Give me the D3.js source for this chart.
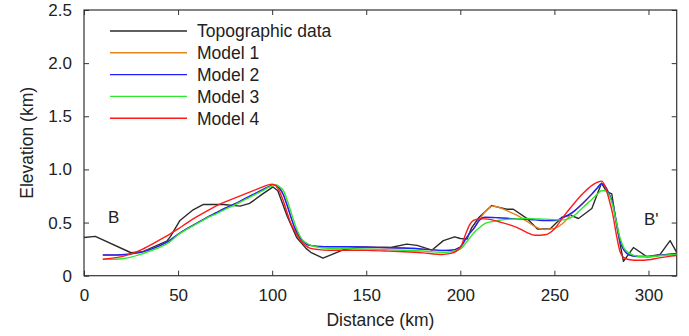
<!DOCTYPE html>
<html><head><meta charset="utf-8">
<script src="https://cdn.jsdelivr.net/npm/d3@7"></script>
<style>body{margin:0;background:#fff}svg{display:block;font-family:"Liberation Sans",Arial,sans-serif}</style>
</head><body><svg id="c" width="689" height="336"></svg>
<script>
const xTicks = [0, 50, 100, 150, 200, 250, 300];
const yTicks = [0, 0.5, 1.0, 1.5, 2.0, 2.5];
const yTickLabels = ["0", "0.5", "1.0", "1.5", "2.0", "2.5"];
const seriesNames = ["Topographic data", "Model 1", "Model 2", "Model 3", "Model 4"];
const seriesColors = ["#2b2b2b", "#e8821e", "#1f1fff", "#2ee82e", "#ff1a1a"];

const topoX = [0, 6, 25, 31, 44, 46, 51, 58, 63.5, 74, 83, 88, 95, 100.5, 103, 108, 113, 118, 120.5, 127, 138, 146, 163, 171.5, 177, 185, 191, 197, 200, 203.5, 206, 210, 216.7, 224.7, 228.2, 235.3, 241, 247.7, 254, 258.4, 262.8, 269.9, 275, 277.8, 280.5, 283.2, 286.7, 292, 299.2, 306.2, 311.5, 315];
const topoY = [0.36, 0.37, 0.216, 0.225, 0.325, 0.37, 0.52, 0.62, 0.67, 0.67, 0.655, 0.68, 0.77, 0.835, 0.80, 0.56, 0.36, 0.257, 0.22, 0.165, 0.245, 0.265, 0.265, 0.297, 0.285, 0.241, 0.33, 0.366, 0.35, 0.344, 0.45, 0.55, 0.66, 0.625, 0.625, 0.54, 0.44, 0.44, 0.55, 0.57, 0.538, 0.632, 0.87, 0.79, 0.77, 0.46, 0.135, 0.265, 0.178, 0.2, 0.33, 0.22];

const modelX = [10, 15, 20, 25, 30, 35, 40, 45, 50, 55, 60, 65, 70, 75, 80, 85, 90, 95, 98, 100, 102, 104, 106, 108, 110, 112, 114, 116, 118, 120, 125, 130, 140, 150, 160, 170, 180, 190, 195, 200, 203, 205, 207, 210, 213, 217, 220, 225, 230, 235, 240, 245, 250, 255, 260, 265, 270, 273, 275, 277, 279, 281, 283, 285, 287, 290, 295, 300, 305, 310, 315];

const model1Y = [0.195, 0.195, 0.197, 0.205, 0.22, 0.245, 0.28, 0.325, 0.39, 0.445, 0.495, 0.545, 0.59, 0.635, 0.675, 0.72, 0.765, 0.81, 0.835, 0.85, 0.85, 0.82, 0.76, 0.66, 0.55, 0.45, 0.38, 0.33, 0.30, 0.285, 0.275, 0.272, 0.272, 0.27, 0.265, 0.26, 0.25, 0.238, 0.24, 0.27, 0.35, 0.40, 0.44, 0.52, 0.60, 0.655, 0.645, 0.61, 0.57, 0.515, 0.46, 0.435, 0.445, 0.50, 0.60, 0.68, 0.77, 0.83, 0.865, 0.84, 0.77, 0.68, 0.50, 0.32, 0.24, 0.195, 0.18, 0.18, 0.19, 0.20, 0.21];
const model2Y = [0.195, 0.195, 0.197, 0.205, 0.22, 0.245, 0.28, 0.325, 0.39, 0.445, 0.495, 0.545, 0.59, 0.635, 0.675, 0.72, 0.765, 0.81, 0.835, 0.85, 0.85, 0.82, 0.76, 0.66, 0.55, 0.45, 0.38, 0.33, 0.30, 0.285, 0.275, 0.272, 0.272, 0.27, 0.265, 0.26, 0.25, 0.238, 0.24, 0.27, 0.35, 0.40, 0.44, 0.52, 0.55, 0.548, 0.545, 0.54, 0.535, 0.53, 0.525, 0.518, 0.52, 0.55, 0.60, 0.68, 0.77, 0.83, 0.865, 0.84, 0.77, 0.68, 0.50, 0.32, 0.24, 0.195, 0.18, 0.18, 0.19, 0.20, 0.21];
const model3Y = [0.155, 0.155, 0.16, 0.175, 0.2, 0.232, 0.265, 0.31, 0.385, 0.44, 0.49, 0.54, 0.58, 0.625, 0.665, 0.71, 0.755, 0.80, 0.83, 0.845, 0.857, 0.835, 0.80, 0.71, 0.60, 0.49, 0.40, 0.34, 0.31, 0.29, 0.265, 0.258, 0.255, 0.25, 0.245, 0.24, 0.232, 0.22, 0.225, 0.25, 0.31, 0.355, 0.40, 0.45, 0.49, 0.51, 0.52, 0.53, 0.535, 0.538, 0.535, 0.532, 0.528, 0.525, 0.56, 0.64, 0.72, 0.77, 0.80, 0.80, 0.76, 0.66, 0.50, 0.35, 0.26, 0.21, 0.18, 0.18, 0.185, 0.195, 0.20];
const model4Y = [0.155, 0.165, 0.18, 0.205, 0.24, 0.285, 0.335, 0.385, 0.44, 0.50, 0.555, 0.605, 0.655, 0.695, 0.73, 0.765, 0.80, 0.835, 0.855, 0.86, 0.845, 0.79, 0.70, 0.59, 0.49, 0.42, 0.36, 0.31, 0.28, 0.26, 0.245, 0.24, 0.24, 0.238, 0.232, 0.225, 0.215, 0.20, 0.21, 0.265, 0.40, 0.48, 0.52, 0.535, 0.535, 0.525, 0.51, 0.485, 0.455, 0.41, 0.38, 0.385, 0.44, 0.56, 0.67, 0.77, 0.85, 0.88, 0.89, 0.84, 0.72, 0.58, 0.38, 0.22, 0.17, 0.15, 0.145, 0.15, 0.165, 0.18, 0.19];

const L = 84, R = 676.7, T = 10, B = 275.7;
const svg = d3.select("#c");
const x = d3.scaleLinear().domain([0, 315]).range([L, R]);
const y = d3.scaleLinear().domain([0, 2.5]).range([B, T]);
const ink = "#222";
const fs = 17;

// axes with inward ticks
const tl = 5;
svg.append("g").attr("transform", `translate(0,${B})`)
  .call(d3.axisBottom(x).tickValues(xTicks).tickSize(-tl).tickPadding(tl + 8).tickFormat(d3.format("d")));
svg.append("g").attr("transform", `translate(0,${T})`)
  .call(d3.axisTop(x).tickValues(xTicks).tickSize(-tl).tickFormat(""));
svg.append("g").attr("transform", `translate(${L},0)`)
  .call(d3.axisLeft(y).tickValues(yTicks).tickSize(-tl).tickPadding(tl + 7).tickFormat((d, i) => yTickLabels[i]));
svg.append("g").attr("transform", `translate(${R},0)`)
  .call(d3.axisRight(y).tickValues(yTicks).tickSize(-tl).tickFormat(""));
svg.selectAll(".domain").remove();
svg.selectAll(".tick line").attr("stroke", "#333").attr("stroke-width", 1);
svg.selectAll(".tick text").attr("font-size", fs).attr("fill", ink).attr("font-family", "Liberation Sans, Arial, sans-serif");
svg.append("rect").attr("x", L).attr("y", T).attr("width", R - L).attr("height", B - T)
  .attr("fill", "none").attr("stroke", "#333").attr("stroke-width", 1.2);

// clip
svg.append("clipPath").attr("id", "clip").append("rect")
  .attr("x", L).attr("y", T).attr("width", R - L).attr("height", B - T);

const line = d3.line().x(d => x(d[0])).y(d => y(d[1])).curve(d3.curveLinear);
const smooth = d3.line().x(d => x(d[0])).y(d => y(d[1])).curve(d3.curveMonotoneX);
const g = svg.append("g").attr("clip-path", "url(#clip)");
const series = [
  {pts: d3.zip(topoX, topoY), c: seriesColors[0], gen: line},
  {pts: d3.zip(modelX, model1Y), c: seriesColors[1], gen: smooth},
  {pts: d3.zip(modelX, model2Y), c: seriesColors[2], gen: smooth},
  {pts: d3.zip(modelX, model3Y), c: seriesColors[3], gen: smooth},
  {pts: d3.zip(modelX, model4Y), c: seriesColors[4], gen: smooth}
];
series.forEach(s => g.append("path").attr("d", s.gen(s.pts)).attr("fill", "none")
  .attr("stroke", s.c).attr("stroke-width", 1.4).attr("stroke-linejoin", "round"));

// legend
seriesNames.forEach((n, i) => {
  const yy = 31 + i * 21.8;
  svg.append("line").attr("x1", 110).attr("x2", 187).attr("y1", yy).attr("y2", yy)
    .attr("stroke", seriesColors[i]).attr("stroke-width", 1.4);
  svg.append("text").attr("x", 197).attr("y", yy).attr("dy", "0.36em")
    .attr("font-size", 17.5).attr("fill", ink).text(n);
});

// annotations
svg.append("text").attr("x", 108).attr("y", 217).attr("dy", "0.36em").attr("font-size", 17).attr("fill", ink).text("B");
svg.append("text").attr("x", 644).attr("y", 219).attr("dy", "0.36em").attr("font-size", 17).attr("fill", ink).text("B'");

// axis titles
svg.append("text").attr("x", (L + R) / 2).attr("y", 326).attr("text-anchor", "middle")
  .attr("font-size", 17.5).attr("fill", ink).text("Distance (km)");
svg.append("text").attr("transform", `translate(33,${(T + B) / 2}) rotate(-90)`).attr("text-anchor", "middle")
  .attr("font-size", 17.5).attr("fill", ink).text("Elevation (km)");
</script></body></html>
